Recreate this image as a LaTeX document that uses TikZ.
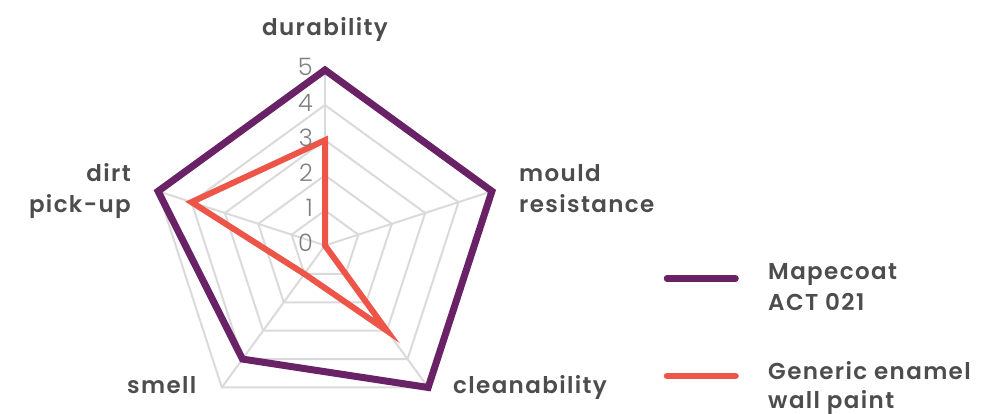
\documentclass[tikz,border=0pt]{standalone}
\usepackage{fontspec}
\IfFontExistsTF{Poppins SemiBold}{\newfontfamily\labfont{Poppins SemiBold}[LetterSpace=6]}{\newfontfamily\labfont{Poppins}[LetterSpace=6]}
\IfFontExistsTF{Poppins Light}{\newfontfamily\numfont{Poppins Light}}{\newfontfamily\numfont{Poppins}}
\definecolor{gridc}{HTML}{DADADA}
\definecolor{mape}{HTML}{6A2266}
\definecolor{generic}{HTML}{EC5548}
\definecolor{labc}{HTML}{4D4D4D}
\definecolor{numc}{HTML}{7F7F7F}
\tikzset{
  gridline/.style={draw=gridc, line width=2pt},
  mapeline/.style={draw=mape, line width=7pt},
  genline/.style={draw=generic, line width=6pt},
  axislab/.style={text=labc, font=\labfont\fontsize{23}{31}\selectfont, inner sep=0pt},
  numlab/.style={text=numc, font=\numfont\fontsize{24}{28}\selectfont, inner sep=0pt, anchor=base east},
  legline/.style={line width=6.5pt, line cap=round},
}
\begin{document}
\begin{tikzpicture}[x=1pt,y=-1pt]
\useasboundingbox (0,0) rectangle (983,414);
\def\cx{325}\def\cy{245.5}\def\st{35.1}
\foreach \k/\a in {0/-90,1/-18,2/54,3/126,4/198}{
  \coordinate (ax\k) at ({\cx+5*\st*cos(\a)},{\cy+5*\st*sin(\a)});
}
\coordinate (c) at (\cx,\cy);
% grid rings
\foreach \r in {1,...,5}{
  \draw[gridline] ({\cx+\r*\st*cos(-90)},{\cy+\r*\st*sin(-90)})
    -- ({\cx+\r*\st*cos(-18)},{\cy+\r*\st*sin(-18)})
    -- ({\cx+\r*\st*cos(54)},{\cy+\r*\st*sin(54)})
    -- ({\cx+\r*\st*cos(126)},{\cy+\r*\st*sin(126)})
    -- ({\cx+\r*\st*cos(198)},{\cy+\r*\st*sin(198)}) -- cycle;
}
\foreach \k in {0,...,4}{ \draw[gridline] (c) -- (ax\k); }
% series
\draw[mapeline] ({\cx+5*\st*cos(-90)},{\cy+5*\st*sin(-90)})
    -- ({\cx+5*\st*cos(-18)},{\cy+5*\st*sin(-18)})
    -- ({\cx+5*\st*cos(54)},{\cy+5*\st*sin(54)})
    -- ({\cx+4*\st*cos(126)},{\cy+4*\st*sin(126)})
    -- ({\cx+5*\st*cos(198)},{\cy+5*\st*sin(198)}) -- cycle;
\draw[genline] ({\cx+3*\st*cos(-90)},{\cy+3*\st*sin(-90)})
    -- (c)
    -- ({\cx+3*\st*cos(54)},{\cy+3*\st*sin(54)})
    -- ({\cx+1*\st*cos(126)},{\cy+1*\st*sin(126)})
    -- ({\cx+4*\st*cos(198)},{\cy+4*\st*sin(198)}) -- cycle;
% scale numbers
\foreach \v in {0,...,5}{
  \node[numlab] (n\v) at (313,{\cy-\v*\st+6}) {\v};
}
% axis labels
\node[axislab, anchor=base] (ldur) at (325,36) {durability};
\node[axislab, anchor=base west, align=left] (lmould) at (519,213) {mould\\resistance};
\node[axislab, anchor=base east, align=right] (ldirt) at (131,213) {dirt\\pick-up};
\node[axislab, anchor=base west] (lsmell) at (127,393) {smell};
\node[axislab, anchor=base west] (lclean) at (453,393) {cleanability};
% legend
\coordinate (m1) at (667,278.5);
\coordinate (m2) at (735.5,278.5);
\coordinate (g1) at (667,376);
\coordinate (g2) at (735.5,376);
\draw[legline, mape] (m1) -- (m2);
\draw[legline, generic] (g1) -- (g2);
\node[axislab, anchor=base west, align=left] (lm) at (768,310) {Mapecoat\\ACT 021};
\node[axislab, anchor=base west, align=left, font=\labfont\fontsize{23}{29}\selectfont] (lg) at (768,408) {Generic enamel\\wall paint};
\end{tikzpicture}
\end{document}
